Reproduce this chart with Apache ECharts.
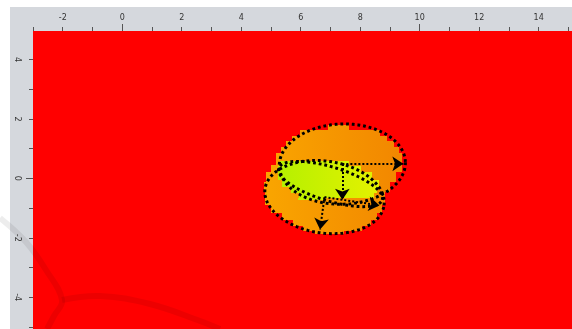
<!DOCTYPE html>
<html>
<head>
<meta charset="utf-8">
<script src="https://cdn.jsdelivr.net/npm/echarts@6/dist/echarts.min.js"></script>
<style>
  html, body { margin: 0; padding: 0; background: #fff; }
  #chart { width: 572px; height: 329px; }
</style>
</head>
<body>
<div id="chart"></div>
<script>
// axis ticks and labels
var xLabels = [-2, 0, 2, 4, 6, 8, 10, 12, 14];
var xTicks = [-3, -2, -1, 0, 1, 2, 3, 4, 5, 6, 7, 8, 9, 10, 11, 12, 13, 14, 15];
var xMajor = [0, 10];
var yLabels = [-4, -2, 0, 2, 4];
var yTicks = [-5, -4, -3, -2, -1, 0, 1, 2, 3, 4];
var yMajor = [0];

// orange level, rows of cells: [xLeft, xRight, yTop, yBottom]
var orangeRows = [
  [6.93, 7.64, 1.79, 1.63],
  [5.96, 8.65, 1.63, 1.42],
  [5.72, 8.89, 1.42, 1.26],
  [5.52, 9.12, 1.26, 1.05],
  [5.35, 9.29, 1.05, 0.85],
  [5.18, 9.39, 0.85, 0.45],
  [5.01, 9.39, 0.45, 0.21],
  [4.84, 9.19, 0.21, -0.12],
  [4.78, 8.99, -0.12, -0.46],
  [4.81, 8.82, -0.46, -0.90],
  [5.01, 8.72, -0.90, -1.17],
  [5.38, 8.55, -1.17, -1.40],
  [5.75, 8.35, -1.40, -1.61],
  [6.09, 8.05, -1.61, -1.78],
  [6.49, 7.47, -1.78, -1.88]
];

// yellow level, same layout
var yellowRows = [
  [5.32, 7.64, 0.58, 0.41],
  [5.25, 8.04, 0.41, 0.21],
  [5.25, 8.38, 0.21, -0.06],
  [5.38, 8.62, -0.06, -0.29],
  [5.68, 8.58, -0.29, -0.49],
  [5.95, 8.45, -0.49, -0.66],
  [5.92, 6.80, -0.66, -0.73]
];

// dotted ellipses: [cx, cy, semiX, semiY, angleDeg]
var ellipses = [
  [7.40, 0.48, 2.12, 1.35, 2],
  [6.80, -0.63, 2.02, 1.21, -8],
  [7.00, -0.19, 1.82, 0.57, -17]
];

// arrows: [x0, y0, x1, y1]
var arrows = [
  [7.40, 0.48, 9.45, 0.49],
  [7.40, 0.48, 7.40, -0.72],
  [6.80, -0.63, 8.65, -0.91],
  [6.80, -0.63, 6.65, -1.72]
];

var chart = echarts.init(document.getElementById('chart'));

function bandSeries(rows, c0, c1) {
  return {
    type: 'custom',
    renderItem: function (params, api) {
      var p0 = api.coord([api.value(0), api.value(2)]);
      var p1 = api.coord([api.value(1), api.value(3)]);
      var g0 = api.coord([5, 0])[0], g1 = api.coord([9.5, 0])[0];
      var x = Math.round(p0[0]), y = Math.round(p0[1]);
      return {
        type: 'rect',
        shape: { x: x, y: y, width: Math.round(p1[0]) - x, height: Math.round(p1[1]) - y },
        style: {
          fill: new echarts.graphic.LinearGradient(g0, 0, g1, 0, [
            { offset: 0, color: c0 }, { offset: 1, color: c1 }
          ], true)
        },
        silent: true
      };
    },
    data: rows,
    z: 2
  };
}

var ellipseSeries = {
  type: 'custom',
  renderItem: function (params, api) {
    var c = api.coord([api.value(0), api.value(1)]);
    var s = api.size([1, 1]);
    var a = api.value(2), b = api.value(3), th = api.value(4) * Math.PI / 180;
    var pts = [];
    for (var i = 0; i < 160; i++) {
      var t = i / 160 * Math.PI * 2;
      var ux = a * Math.cos(t), uy = b * Math.sin(t);
      var dx = ux * Math.cos(th) - uy * Math.sin(th);
      var dy = ux * Math.sin(th) + uy * Math.cos(th);
      pts.push([c[0] + dx * s[0], c[1] - dy * s[1]]);
    }
    return {
      type: 'polygon',
      shape: { points: pts },
      style: { fill: 'none', stroke: '#000', lineWidth: 3, lineDash: [2.8, 2.9] },
      silent: true
    };
  },
  data: ellipses,
  z: 3
};

var tickStyle = { color: '#555', width: 1 };

chart.setOption({
  animation: false,
  grid: {
    left: 33, top: 31, right: 0, bottom: 0,
    show: true, backgroundColor: '#ff0000', borderWidth: 0
  },
  graphic: [
    { type: 'rect', shape: { x: 10, y: 7, width: 562, height: 24 }, style: { fill: '#d5d8dd' }, z: -10 },
    { type: 'rect', shape: { x: 10, y: 7, width: 23, height: 322 }, style: { fill: '#d5d8dd' }, z: -10 },
    {
      type: 'polyline', z: 100, silent: true,
      shape: { points: [[0, 218], [26, 242], [46, 270], [62, 300], [54, 316], [47, 329]], smooth: 0.4 },
      style: { fill: 'none', stroke: 'rgba(0,0,0,0.07)', lineWidth: 6 }
    },
    {
      type: 'polyline', z: 100, silent: true,
      shape: { points: [[62, 300], [100, 296], [150, 304], [200, 321], [220, 329]], smooth: 0.4 },
      style: { fill: 'none', stroke: 'rgba(0,0,0,0.07)', lineWidth: 6 }
    }
  ],
  xAxis: [{
    type: 'value', position: 'top', min: -3, max: 15.12,
    splitLine: { show: false }, axisLine: { show: false, onZero: false },
    axisTick: { show: true, customValues: xTicks, length: 4, lineStyle: tickStyle },
    axisLabel: { customValues: xLabels, margin: 9, fontSize: 8, color: '#333', fontFamily: 'DejaVu Sans' }
  }, {
    type: 'value', position: 'top', min: -3, max: 15.12,
    splitLine: { show: false }, axisLine: { show: false, onZero: false },
    axisTick: { show: true, customValues: xMajor, length: 7, lineStyle: tickStyle },
    axisLabel: { show: false }
  }],
  yAxis: [{
    type: 'value', position: 'left', min: -5.07, max: 4.96,
    splitLine: { show: false }, axisLine: { show: false, onZero: false },
    axisTick: { show: true, customValues: yTicks, length: 4, lineStyle: tickStyle },
    axisLabel: { customValues: yLabels, margin: 12, fontSize: 8, color: '#333', rotate: -90, fontFamily: 'DejaVu Sans' }
  }, {
    type: 'value', position: 'left', min: -5.07, max: 4.96,
    splitLine: { show: false }, axisLine: { show: false, onZero: false },
    axisTick: { show: true, customValues: yMajor, length: 7, lineStyle: tickStyle },
    axisLabel: { show: false }
  }],
  series: [
    bandSeries(orangeRows, '#f9a400', '#f28600'),
    bandSeries(yellowRows, '#b2f000', '#f0f200'),
    ellipseSeries,
    {
      type: 'lines',
      coordinateSystem: 'cartesian2d',
      symbol: ['none', 'arrow'],
      symbolSize: 11,
      lineStyle: { color: '#000', width: 2, type: [2, 2], opacity: 1 },
      data: arrows.map(function (a) { return { coords: [[a[0], a[1]], [a[2], a[3]]] }; }),
      z: 4
    }
  ]
});
</script>
</body>
</html>
